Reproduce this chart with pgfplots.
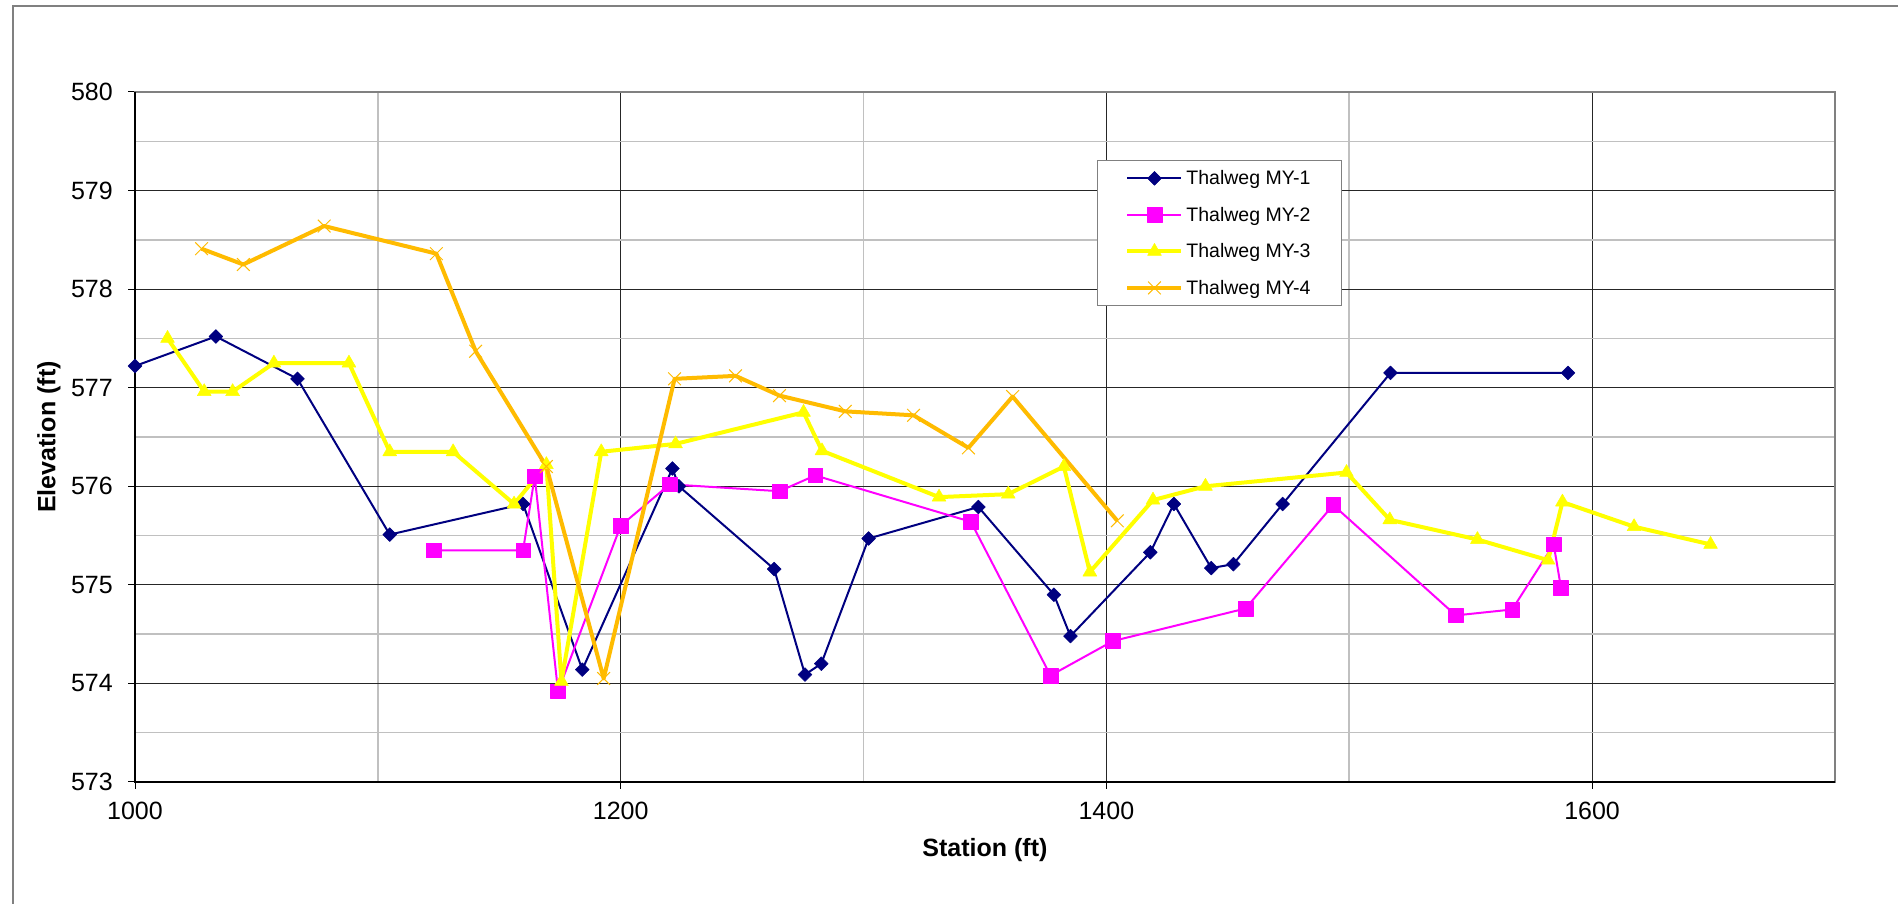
\documentclass[border=0pt]{standalone}
\usepackage{pgfplots}
\pgfplotsset{compat=1.18}
\usepackage{fontspec}
\setmainfont{Liberation Sans}
\definecolor{navyc}{RGB}{0,0,128}
\definecolor{magc}{RGB}{255,0,255}
\definecolor{yelc}{RGB}{255,255,0}
\definecolor{orgc}{RGB}{255,187,0}
\definecolor{framec}{RGB}{128,128,128}
\definecolor{minorgrid}{RGB}{192,192,192}
\begin{document}
\begin{tikzpicture}[x=1pt,y=1pt]
\useasboundingbox (0,0) rectangle (1898,904);
\draw[framec, line width=2pt] (13,-10) -- (13,898) -- (1910,898);
\begin{axis}[
  at={(135pt,122pt)}, anchor=south west,
  scale only axis, width=1700pt, height=690pt,
  xmin=1000, xmax=1700, ymin=573, ymax=580,
  xtick={1000,1200,1400,1600}, ytick={573,574,...,580},
  minor x tick num=1, minor y tick num=1,
  grid=both,
  major grid style={black!85, line width=1pt},
  minor grid style={minorgrid, line width=1.5pt},
  minor tick length=0pt,
  major tick length=7pt, tick align=outside, tick pos=left,
  tick style={black, line width=1pt},
  axis line style={framec, line width=2pt},
  ticklabel style={font=\fontsize{25}{30}\selectfont, inner sep=0pt},
  /pgf/number format/assume math mode=true,
  /pgf/number format/1000 sep={},
  xticklabel style={anchor=north, yshift=-13pt},
  yticklabel style={anchor=east, xshift=-15pt},
  xlabel={Station (ft)}, ylabel={Elevation (ft)},
  label style={font=\bfseries\fontsize{25}{30}\selectfont, inner sep=0pt},
  xlabel style={at={(axis description cs:0.5,-0.0812)}, anchor=north},
  ylabel style={at={(axis description cs:-0.0506,0.5)}, anchor=center},
  clip=false,
  legend style={at={(axis description cs:0.5659,0.9014)}, anchor=north west,
    draw=framec, line width=1pt, fill=white, inner xsep=28pt, inner ysep=7pt,
    row sep=14.9pt, column sep=0pt, font=\fontsize{19.5}{23}\selectfont,
    nodes={inner sep=3pt}, cells={anchor=west}},
  legend image code/.code={\draw[mark repeat=2,mark phase=2,#1] plot coordinates {(0pt,0pt) (27pt,0pt) (54pt,0pt)};},
  every axis plot/.append style={line join=round},
]
\addplot[navyc, line width=2pt, mark=square*, mark size=4.9pt, mark options={rotate=45, solid, fill=navyc, line width=0.5pt}] coordinates {
(1000,577.22) (1033.3,577.52) (1066.9,577.09) (1104.9,575.51) (1159.8,575.82)
(1184.2,574.14) (1221.3,576.18) (1224.0,576.00) (1263.2,575.16) (1275.9,574.09)
(1282.6,574.20) (1302.1,575.47) (1347.3,575.79) (1378.4,574.90) (1385.2,574.48)
(1418.1,575.33) (1427.8,575.82) (1443.2,575.17) (1452.3,575.21) (1472.6,575.82)
(1517.0,577.15) (1590.1,577.15)};
\addlegendentry{Thalweg MY-1}
\addplot[magc, line width=2pt, mark=square*, mark size=7.3pt, mark options={solid, fill=magc, line width=0.5pt}] coordinates {
(1123.0,575.35) (1159.8,575.35) (1164.6,576.10) (1174.2,573.92) (1200.0,575.60)
(1220.2,576.02) (1265.4,575.95) (1280.1,576.11) (1344.2,575.64) (1377.0,574.08)
(1402.7,574.43) (1457.3,574.76) (1493.4,575.81) (1543.9,574.69) (1567.1,574.75)
(1584.2,575.41) (1587.2,574.97)};
\addlegendentry{Thalweg MY-2}
\addplot[yelc, line width=4pt, mark=triangle*, mark size=8pt, mark options={solid, fill=yelc, line width=0.5pt}] coordinates {
(1013.4,577.50) (1028.5,576.96) (1040.2,576.96) (1057.2,577.25) (1088.1,577.25)
(1104.9,576.35) (1131.0,576.35) (1156.1,575.82) (1169.4,576.22) (1175.6,574.02)
(1192.0,576.35) (1222.6,576.43) (1275.3,576.75) (1282.9,576.36) (1331.1,575.89)
(1359.6,575.92) (1382.5,576.20) (1393.2,575.13) (1419.2,575.86) (1440.8,576.00)
(1498.9,576.14) (1516.7,575.66) (1552.8,575.46) (1581.9,575.25) (1587.8,575.84)
(1617.3,575.59) (1648.8,575.41)};
\addlegendentry{Thalweg MY-3}
\addplot[orgc, line width=4pt, mark=x, mark size=9pt, mark options={solid, line width=1pt}] coordinates {
(1027.4,578.41) (1044.6,578.25) (1077.9,578.64) (1124.1,578.36) (1140.3,577.37)
(1169.4,576.20) (1193.0,574.05) (1222.2,577.09) (1247.3,577.12) (1265.4,576.92)
(1292.5,576.76) (1320.6,576.72) (1343.2,576.39) (1361.4,576.91) (1404.5,575.65)};
\addlegendentry{Thalweg MY-4}
\draw[black, line width=1.5pt] (rel axis cs:0,1) -- (rel axis cs:0,0) -- (rel axis cs:1,0);
\end{axis}
\end{tikzpicture}
\end{document}
